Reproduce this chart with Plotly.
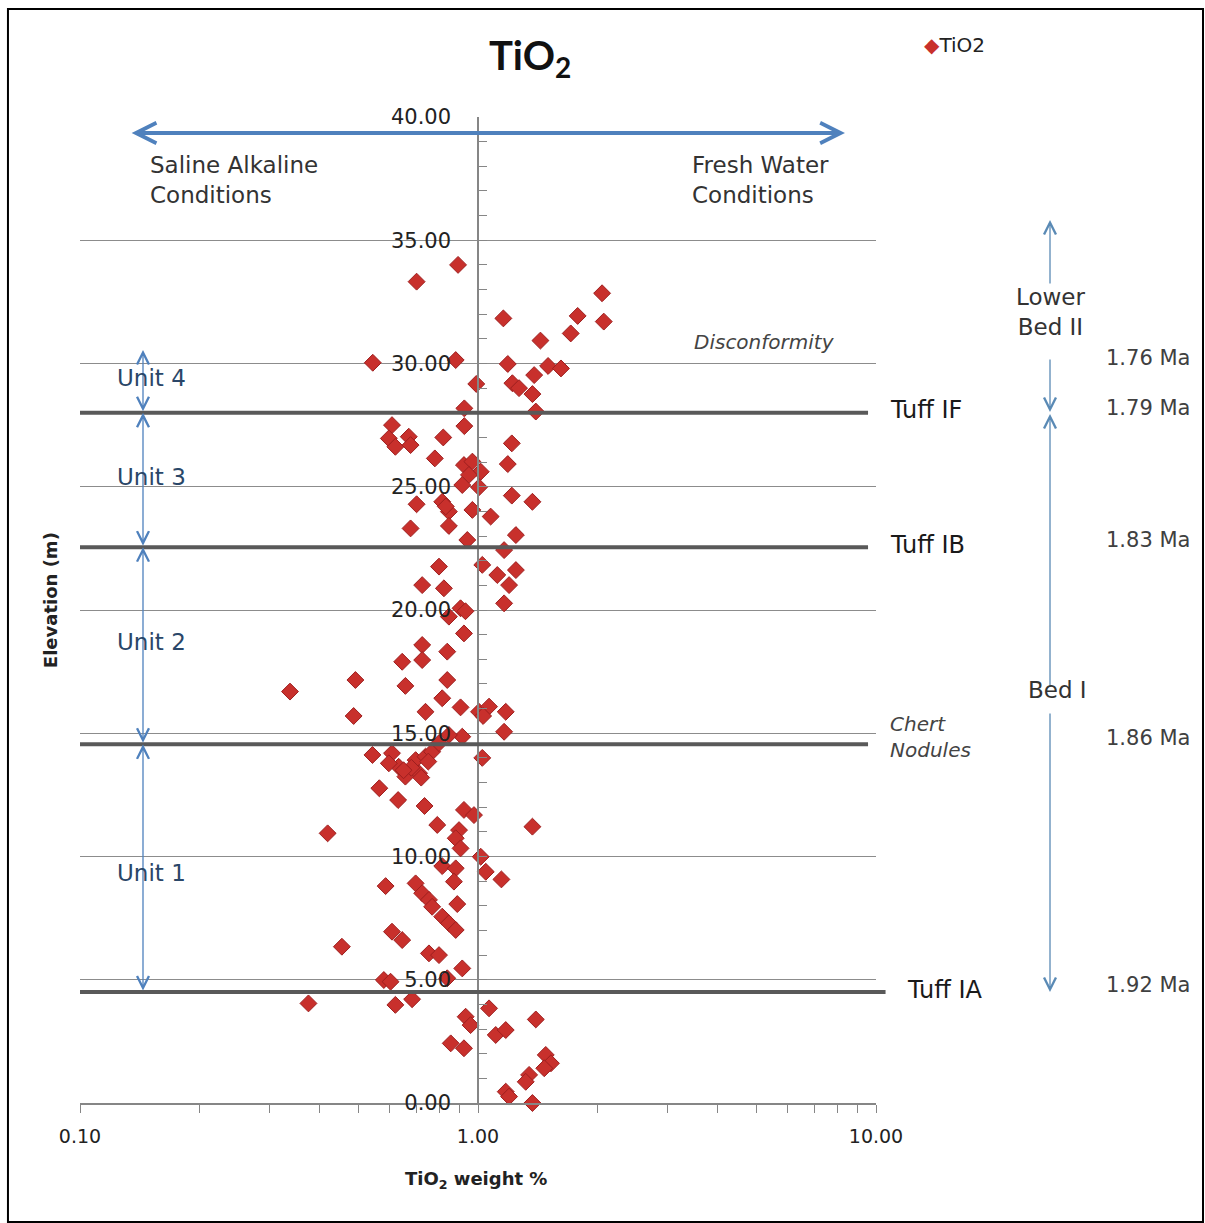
import numpy as np
import plotly.graph_objects as go

# ---------------- data ----------------
tio2 = [
    0.891, 0.701, 2.05, 1.158, 1.78, 2.07, 1.71, 1.435, 0.544, 0.879,
    1.188, 1.50, 1.616, 0.99, 1.22, 1.268, 1.384, 1.37, 0.924, 1.397,
    0.924, 0.608, 0.597, 0.670, 0.620, 0.677, 0.818, 1.216, 0.779, 1.188,
    0.922, 0.968, 1.016, 0.949, 0.913, 1.006, 1.216, 1.37, 0.701, 0.813,
    0.845, 0.968, 1.076, 0.677, 0.845, 0.940, 1.245, 1.163, 0.798, 1.025,
    1.118, 1.245, 0.724, 0.821, 1.197, 0.83,
    1.163, 0.904, 0.93, 0.845, 0.922, 0.724, 0.837, 0.645, 0.724, 0.492,
    0.337, 0.657, 0.837, 0.813, 0.904, 0.738, 0.487, 1.006, 1.066, 1.174,
    1.03, 1.163, 0.913, 1.025,
    0.845, 0.543, 0.608, 0.632, 0.697, 0.738, 0.767, 0.657, 0.711, 0.597,
    0.798, 0.68, 0.65, 0.72, 0.75,
    0.565, 0.630, 0.734, 0.922, 0.977, 1.37, 0.419, 0.790, 0.896, 0.879,
    0.904, 1.016, 0.813, 0.879, 1.046, 1.145, 0.870, 0.586, 0.697, 0.724,
    0.753, 0.767, 0.887, 0.813, 0.845, 0.879, 0.608, 0.645, 0.455, 0.753,
    0.798,
    0.913, 0.580, 0.603, 0.837, 0.375, 0.620, 0.683, 1.066, 0.931, 0.958,
    1.397, 1.108, 1.174, 0.854, 0.922, 1.48, 1.525, 1.467, 1.344, 1.318,
    1.174, 1.197, 1.37,
]
elevation = [
    34.0, 33.32, 32.85, 31.83, 31.93, 31.70, 31.22, 30.93, 30.03, 30.14,
    29.98, 29.9, 29.8, 29.17, 29.2, 29.0, 29.53, 28.76, 28.18, 28.05,
    27.46, 27.5, 26.96, 27.03, 26.62, 26.69, 27.0, 26.76, 26.15, 25.92,
    25.88, 26.02, 25.61, 25.48, 25.07, 24.98, 24.64, 24.39, 24.29, 24.39,
    23.99, 24.06, 23.79, 23.31, 23.41, 22.84, 23.04, 22.43, 21.76, 21.83,
    21.42, 21.62, 21.01, 20.88, 21.01, 24.2,
    20.27, 20.07, 19.95, 19.73, 19.05, 18.58, 18.31, 17.90, 17.97, 17.16,
    16.69, 16.92, 17.16, 16.42, 16.05, 15.87, 15.70, 15.87, 16.08, 15.87,
    15.7, 15.06, 14.86, 14.0,
    14.93, 14.12, 14.19, 13.64, 13.91, 14.05, 14.25, 13.24, 13.38, 13.78,
    14.6, 13.6, 13.5, 13.2, 13.85,
    12.77, 12.29, 12.05, 11.89, 11.68, 11.21, 10.94, 11.28, 11.07, 10.74,
    10.33, 9.99, 9.61, 9.52, 9.38, 9.07, 8.98, 8.80, 8.91, 8.51,
    8.24, 7.96, 8.07, 7.56, 7.29, 7.02, 6.95, 6.61, 6.34, 6.07,
    6.0,
    5.46, 4.99, 4.92, 5.06, 4.04, 3.98, 4.21, 3.84, 3.50, 3.16,
    3.39, 2.76, 2.96, 2.42, 2.22, 1.95, 1.61, 1.41, 1.14, 0.86,
    0.46, 0.26, 0.0,
]

x_tickvals = [0.1, 0.2, 0.3, 0.4, 0.5, 0.6, 0.7, 0.8, 0.9,
              1, 2, 3, 4, 5, 6, 7, 8, 9, 10]
x_ticktext = ["0.10", "", "", "", "", "", "", "", "",
              "1.00", "", "", "", "", "", "", "", "", "10.00"]

tuff_names = ["Tuff IF", "Tuff IB", "Tuff IA"]
tuff_elev = [28.0, 22.55, 4.5]
chert_elev = 14.55
unit_names = ["Unit 4", "Unit 3", "Unit 2", "Unit 1"]
unit_bounds = [30.55, 28.0, 22.55, 14.55, 4.5]
unit_label_elev = [29.41, 25.4, 18.7, 9.33]
age_labels = ["1.76 Ma", "1.79 Ma", "1.83 Ma", "1.86 Ma", "1.92 Ma"]
age_elev = [30.22, 28.2, 22.84, 14.81, 4.79]

FONT = "DejaVu Sans"
BLUE = "#4f81bd"

fig = go.Figure()
fig.add_trace(go.Scatter(
    x=tio2, y=elevation, mode="markers", name="TiO2",
    marker=dict(symbol="diamond", size=13, color="#c8302c",
                line=dict(color="#9e1f1f", width=1)),
    cliponaxis=False, showlegend=False,
))

shapes = []
for e, x1 in zip(tuff_elev, [0.99, 0.99, 1.012]):
    shapes.append(dict(type="line", xref="paper", yref="y", x0=0, x1=x1,
                       y0=e, y1=e, line=dict(color="#595959", width=4)))
shapes.append(dict(type="line", xref="paper", yref="y", x0=0, x1=0.99,
                   y0=chert_elev, y1=chert_elev, line=dict(color="#595959", width=4)))
shapes.append(dict(type="rect", xref="paper", yref="paper",
                   x0=-0.0905, x1=1.4108, y0=-0.1207, y1=1.1095,
                   line=dict(color="black", width=2)))

ann = []
ann.append(dict(text="<b>TiO<sub>2</sub></b>", xref="paper", yref="paper",
                x=0.565, y=1.06, xanchor="center", yanchor="middle", showarrow=False,
                font=dict(family="Lato", size=40, color="#111")))
ann.append(dict(text="<span style='color:#c8302c'>◆</span>TiO2", xref="paper", yref="paper",
                x=1.0578, y=1.073, xanchor="left", yanchor="middle", showarrow=False,
                font=dict(family=FONT, size=20, color="#222")))
ann.append(dict(text="<b>Elevation (m)</b>", xref="paper", yref="paper", x=-0.0377, y=0.51,
                xanchor="center", yanchor="middle",
                textangle=-90, showarrow=False, font=dict(family=FONT, size=18, color="#222")))
ann.append(dict(text="<b>TiO<sub>2</sub> weight %</b>", xref="paper", yref="paper",
                x=0.4975, y=-0.078, xanchor="center", yanchor="middle",
                showarrow=False, font=dict(family=FONT, size=18, color="#222")))

ann.append(dict(text="", xref="x", yref="y", axref="x", ayref="y",
                x=0.922, y=39.35, ax=-0.874, ay=39.35, showarrow=True,
                arrowside="end+start", arrowhead=5, startarrowhead=5,
                arrowsize=1.0, startarrowsize=1.0, arrowwidth=4, arrowcolor=BLUE))
ann.append(dict(text="Saline Alkaline<br>Conditions", xref="x", yref="y", x=-0.829, y=37.44,
                xanchor="left", align="left", showarrow=False,
                font=dict(family=FONT, size=23, color="#333")))
ann.append(dict(text="Fresh Water<br>Conditions", xref="x", yref="y", x=0.533, y=37.44,
                xanchor="left", align="left", showarrow=False,
                font=dict(family=FONT, size=23, color="#333")))
ann.append(dict(text="<i>Disconformity</i>", xref="x", yref="y", x=0.721, y=30.87,
                showarrow=False, font=dict(family=FONT, size=20, color="#444")))
ann.append(dict(text="<i>Chert<br>Nodules</i>", xref="paper", yref="y", x=1.015, y=14.85,
                xanchor="left", align="left", showarrow=False,
                font=dict(family=FONT, size=20, color="#444")))

for name, e, xl in zip(tuff_names, tuff_elev, [1.015, 1.015, 1.0365]):
    ann.append(dict(text=name, xref="paper", yref="y", x=xl, y=e + 0.1, xanchor="left",
                    yanchor="middle", showarrow=False,
                    font=dict(family=FONT, size=24, color="#1a1a1a")))

ux = -0.8417
for top, bot in zip(unit_bounds[:-1], unit_bounds[1:]):
    ann.append(dict(text="", xref="x", yref="y", axref="x", ayref="y",
                    x=ux, y=top, ax=ux, ay=bot, showarrow=True,
                    arrowside="end+start", arrowhead=5, startarrowhead=5,
                    arrowsize=1.8, startarrowsize=1.8, arrowwidth=1.3, arrowcolor=BLUE))
for name, e in zip(unit_names, unit_label_elev):
    ann.append(dict(text=name, xref="x", yref="y", x=-0.912, y=e, xanchor="left",
                    showarrow=False, font=dict(family=FONT, size=23, color="#2a4668")))

rx = 1.2186
for head, tail in [(35.82, 33.18), (28.03, 30.22), (27.95, 16.84), (4.5, 15.86)]:
    ann.append(dict(text="", xref="paper", yref="y", axref="pixel", ayref="y",
                    x=rx, y=head, ax=0, ay=tail, showarrow=True,
                    arrowhead=5, arrowsize=1.8, arrowwidth=1.3, arrowcolor="#5a8ab5"))
ann.append(dict(text="Lower<br>Bed II", xref="paper", yref="y", x=rx, y=32.09,
                xanchor="center", yanchor="middle",
                showarrow=False, font=dict(family=FONT, size=23, color="#333")))
ann.append(dict(text="Bed I", xref="paper", yref="y", x=1.2274, y=16.75,
                xanchor="center", yanchor="middle",
                showarrow=False, font=dict(family=FONT, size=23, color="#333")))
for lab, e in zip(age_labels, age_elev):
    ann.append(dict(text=lab, xref="paper", yref="y", x=1.3417, y=e,
                    xanchor="center", yanchor="middle",
                    showarrow=False, font=dict(family=FONT, size=21, color="#404040")))

fig.update_layout(
    width=1205, height=1223,
    margin=dict(l=80, r=329, t=117, b=120),
    paper_bgcolor="white", plot_bgcolor="white",
    showlegend=False,
    shapes=shapes, annotations=ann,
    xaxis=dict(type="log", range=[-1, 1], showgrid=False, zeroline=False,
               showline=True, linecolor="#868686", linewidth=1.5,
               tickvals=x_tickvals, ticktext=x_ticktext,
               ticks="outside", ticklen=8, tickcolor="#868686",
               ticklabelstandoff=7,
               tickfont=dict(family=FONT, size=19, color="#222")),
    yaxis=dict(range=[0, 40], anchor="free", position=0.5, side="left",
               dtick=5, tickformat=".2f",
               showgrid=True, gridcolor="#8c8c8c", gridwidth=1, zeroline=False,
               showline=True, linecolor="#868686", linewidth=1.5,
               ticks="inside", ticklen=8, tickcolor="#868686",
               minor=dict(dtick=1, ticks="inside", ticklen=8, tickcolor="#868686",
                          showgrid=False),
               ticklabelstandoff=22,
               tickfont=dict(family=FONT, size=21, color="#222")),
)

fig.write_html("out.html")
